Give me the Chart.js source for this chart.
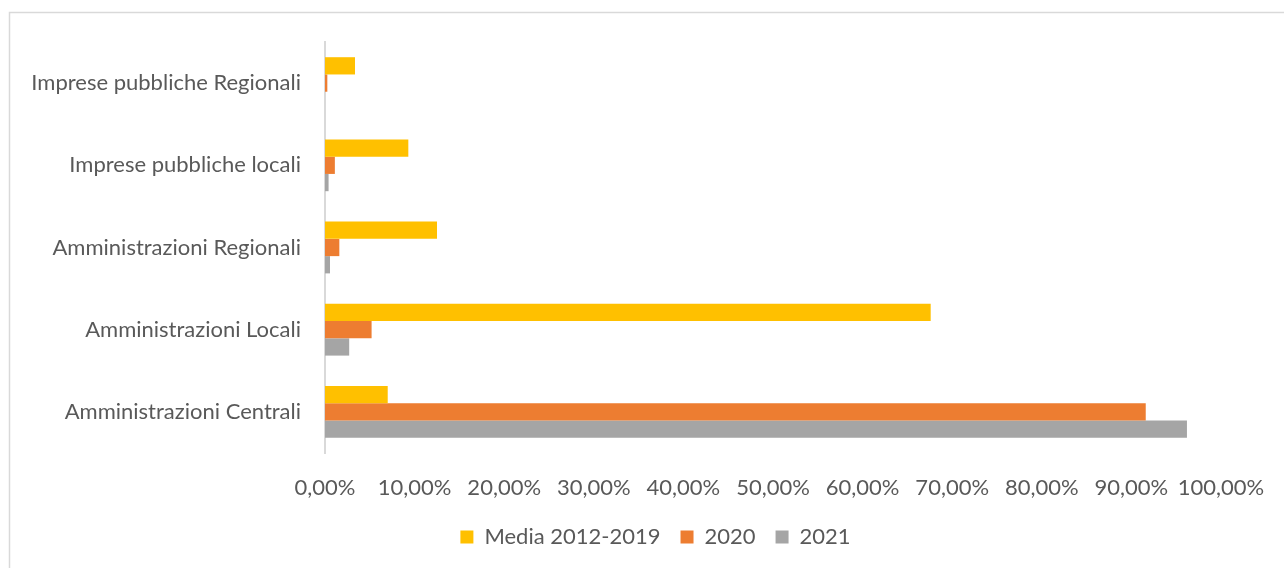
<!DOCTYPE html>
<html>
<head>
<meta charset="utf-8">
<script src="https://cdn.jsdelivr.net/npm/chart.js@4"></script>
<style>
  html, body { margin: 0; padding: 0; background: #fff; }
  #wrap { width: 1284px; height: 568px; }
</style>
</head>
<body>
<div id="wrap"><canvas id="grafico" width="1284" height="568"></canvas></div>
<script>
const categorie = [
    'Imprese pubbliche Regionali',
    'Imprese pubbliche locali',
    'Amministrazioni Regionali',
    'Amministrazioni Locali',
    'Amministrazioni Centrali'
];

// quote in frazione (0.1 = 10%)
const media20122019 = [0.0335, 0.093, 0.125, 0.676, 0.070];
const anno2020      = [0.0026, 0.011, 0.016, 0.052, 0.916];
const anno2021      = [0.0,    0.004, 0.0056, 0.027, 0.962];

const serie = [
    { label: 'Media 2012-2019', data: media20122019, color: '#FFC000' },
    { label: '2020',            data: anno2020,      color: '#ED7D31' },
    { label: '2021',            data: anno2021,      color: '#A5A5A5' }
];

const testo = '#595959';
const font = { family: 'Lato', size: 22 };

// cornice grigia attorno al grafico
const cornice = {
    id: 'cornice',
    beforeDraw(chart) {
        const ctx = chart.ctx;
        ctx.save();
        ctx.strokeStyle = '#D9D9D9';
        ctx.lineWidth = 1.5;
        ctx.strokeRect(9.5, 12.5, chart.width + 20, chart.height + 20);
        ctx.restore();
    }
};

// sposta la legenda verso destra, centrata sotto le barre
const legendaCentrata = {
    id: 'legendaCentrata',
    afterLayout(chart) {
        chart.legend.left += 45;
        chart.legend.right += 45;
    }
};

new Chart('grafico', {
    type: 'bar',
    data: {
        labels: categorie,
        datasets: serie.map(s => ({
            label: s.label,
            data: s.data,
            backgroundColor: s.color,
            borderWidth: 0,
            barPercentage: 1,
            categoryPercentage: 0.63
        }))
    },
    options: {
        indexAxis: 'y',
        responsive: false,
        animation: false,
        layout: { padding: { top: 42, right: 63, bottom: 10, left: 0 } },
        scales: {
            x: {
                min: 0,
                max: 1,
                grid: { display: false, drawTicks: false },
                border: { display: false },
                ticks: {
                    stepSize: 0.1,
                    padding: 22,
                    color: testo,
                    font: font,
                    maxRotation: 0,
                    callback: v => (v * 100).toFixed(2).replace('.', ',') + '%'
                },
                afterFit: scale => {
                    scale.height = 53;
                    scale.paddingRight = 0;
                }
            },
            y: {
                grid: { display: false, drawTicks: false },
                border: { display: true, color: '#D9D9D9', width: 2 },
                ticks: { padding: 24, color: testo, font: font },
                afterFit: scale => { scale.width = 325; }
            }
        },
        plugins: {
            tooltip: { enabled: false },
            legend: {
                position: 'bottom',
                labels: {
                    color: testo,
                    font: font,
                    boxWidth: 13,
                    boxHeight: 13,
                    padding: 20
                }
            }
        }
    },
    plugins: [cornice, legendaCentrata]
});
</script>
</body>
</html>
